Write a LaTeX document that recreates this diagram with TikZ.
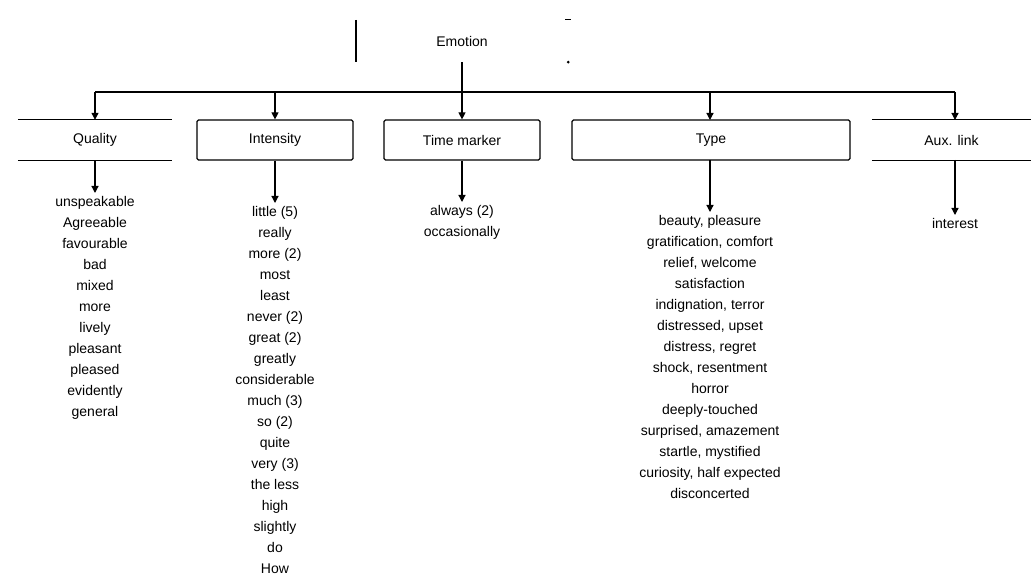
\documentclass[tikz,border=0pt]{standalone}
\usepackage{fontspec}
\setmainfont{Liberation Sans}
\usetikzlibrary{arrows.meta, positioning}
\tikzstyle{box}=[draw, rounded corners=1.5pt, minimum height=40pt, line width=1.2pt, inner sep=0pt, font=\fontsize{14}{17}\selectfont]
\tikzstyle{openbox}=[minimum height=40pt, inner sep=0pt, font=\fontsize{14}{17}\selectfont]
\tikzstyle{list}=[align=center, anchor=north, inner sep=0pt, font=\fontsize{14}{21}\selectfont]
\tikzstyle{link}=[-{Triangle[length=7pt,width=7pt]}, line width=1.2pt]

\begin{document}
\begin{tikzpicture}[x=1pt, y=-1pt]
\useasboundingbox (0,0) rectangle (1031,588);

\node[openbox, minimum width=212pt, minimum height=42pt] (emo) at (462,41) {Emotion};
\draw[line width=1.5pt] (emo.north west) -- (emo.south west);
\draw[line width=1pt] ([xshift=-3pt]emo.north east) -- ++(6,0);
\fill (emo.south east) circle (1.5pt);

\node[openbox, minimum width=154pt] (qual) at (95,140) {Quality};
\node[box, minimum width=156pt] (inten) at (275,140) {Intensity};
\node[box, minimum width=156pt] (time) at (462,140) {Time marker};
\node[box, minimum width=278pt] (type) at (711,140) {Type};
\node[openbox, minimum width=159pt] (aux) at (951.5,140) {Aux. link};
\foreach \b in {qual,aux}{
  \draw[line width=1.2pt] (\b.north west) -- (\b.north east);
  \draw[line width=1.2pt] (\b.south west) -- (\b.south east);
}

\coordinate (busl) at (95,92); \coordinate (busr) at (955,92);
\coordinate (bus) at (462,92);
\draw[line width=1.2pt] (emo.south) -- (bus);
\draw[line width=1.2pt] (busl) -- (busr);
\draw[link] (busl) -- (qual.north);
\draw[link] (inten.north |- bus) -- (inten.north);
\draw[link] (bus) -- (time.north);
\draw[link] (710,92) -- (710,120);
\draw[link] (busr) -- (955,120);

\node[list] (qlist) at (95,196) {unspeakable\\Agreeable\\favourable\\bad\\mixed\\more\\lively\\pleasant\\pleased\\evidently\\general};
\node[list] (ilist) at (275,206) {little (5)\\really\\more (2)\\most\\least\\never (2)\\great (2)\\greatly\\considerable\\much (3)\\so (2)\\quite\\very (3)\\the less\\high\\slightly\\do\\How};
\node[list] (tlist) at (462,205) {always (2)\\occasionally};
\node[list] (ylist) at (710,215) {beauty, pleasure\\gratification, comfort\\relief, welcome\\satisfaction\\indignation, terror\\distressed, upset\\distress, regret\\shock, resentment\\horror\\deeply-touched\\surprised, amazement\\startle, mystified\\curiosity, half expected\\disconcerted};
\node[list] (alist) at (955,218) {interest};

\draw[link, shorten >=3pt] (qual) -- (qlist);
\draw[link, shorten >=3pt] (inten) -- (ilist);
\draw[link, shorten >=3pt] (time) -- (tlist);
\draw[link, shorten >=3pt] (710,160) -- (ylist);
\draw[link, shorten >=3pt] (955,160) -- (alist);
\end{tikzpicture}
\end{document}
